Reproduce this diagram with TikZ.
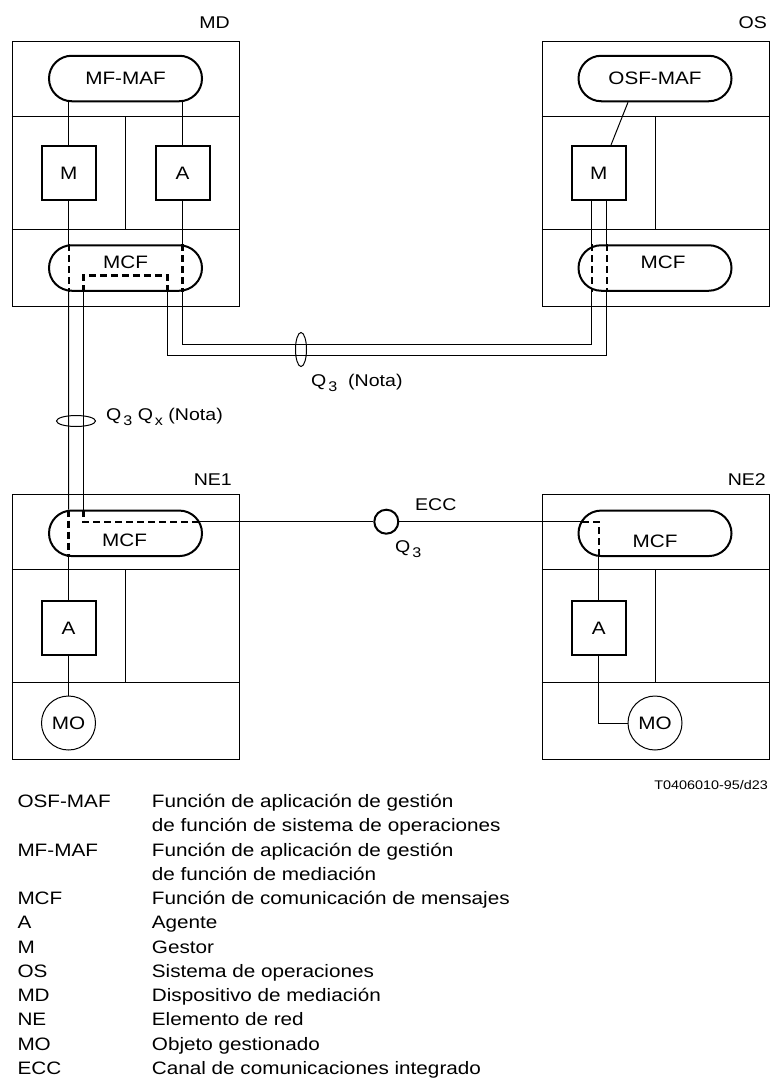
\documentclass[tikz,border=0pt]{standalone}
\usepackage{fontspec}
\setmainfont{Liberation Sans}[FakeStretch=1.15]
\usetikzlibrary{shapes.geometric, shapes.misc, positioning, calc}
\newcommand{\qsub}[1]{\hspace{2pt}\raisebox{-5pt}{\fontsize{14}{14}\selectfont #1}}

\tikzset{
  frame/.style={draw, line width=0.9pt, minimum width=227pt, minimum height=265pt, inner sep=0pt},
  pill/.style={draw, rounded rectangle, line width=2pt, minimum width=153pt, minimum height=45.5pt,
               inner sep=0pt, font=\fontsize{18}{20}\selectfont},
  fbox/.style={draw, line width=2pt, minimum size=54pt, inner sep=0pt, font=\fontsize{18}{20}\selectfont},
  mobj/.style={draw, circle, line width=1pt, minimum size=54pt, inner sep=0pt, font=\fontsize{18}{20}\selectfont},
  ring/.style={draw, ellipse, line width=1pt, inner sep=0pt},
  link/.style={line width=1pt},
  route/.style={line width=2.4pt, dash pattern=on 7pt off 4pt},
  txt/.style={inner sep=0pt, font=\fontsize{18}{20}\selectfont},
  tag/.style={inner sep=0pt, anchor=base east, font=\fontsize{17}{20}\selectfont},
  lbl/.style={inner sep=0pt, anchor=base west, font=\fontsize{17}{20}\selectfont}
}

\begin{document}
\begin{tikzpicture}[x=1pt, y=-1pt]
  \fill[white] (0,0) rectangle (774,1079);
  \useasboundingbox (0,0) rectangle (774,1079);

  \node[frame] (md) at (125.5,173.5) {};
  \node[frame] (os) at (655.5,173.5) {};
  \node[frame] (ne1) at (125.5,626.5) {};
  \node[frame] (ne2) at (655.5,626.5) {};
  \foreach \b in {md, os, ne1, ne2} {
    \draw[line width=0.9pt] ($(\b.north west)+(0,76)$) -- ($(\b.north east)+(0,76)$);
    \draw[line width=0.9pt] ($(\b.north west)+(0,189)$) -- ($(\b.north east)+(0,189)$);
    \draw[line width=0.9pt] ($(\b.north west)+(114,76)$) -- ($(\b.north west)+(114,189)$);
  }
  \node[tag] (mdtag) at (230,28) {MD};
  \node[tag] (ostag) at (767,28) {OS};
  \node[tag] (ne1tag) at (232,485) {NE1};
  \node[tag] (ne2tag) at (766,485) {NE2};

  \node[pill] (mfmaf) at (125.5,78.5) {MF-MAF};
  \node[pill] (osfmaf) at (655,78.5) {OSF-MAF};
  \node[fbox] (mdm) at (68.7,173) {M};
  \node[fbox] (mda) at (182.5,173) {A};
  \node[fbox] (osm) at (598.7,173) {M};
  \node[pill] (mdmcf) at (125.5,268) {};
  \node[txt] (mdmcft) at (125.5,262.5) {MCF};
  \node[pill] (osmcf) at (655,268) {};
  \node[txt] (osmcft) at (663,262.5) {MCF};
  \node[pill] (ne1mcf) at (125.5,533.3) {};
  \node[txt] (ne1mcft) at (124.5,540) {MCF};
  \node[pill] (ne2mcf) at (655,533.3) {};
  \node[txt] (ne2mcft) at (655,541) {MCF};
  \node[fbox] (ne1a) at (68.5,628) {A};
  \node[fbox] (ne2a) at (598.7,628) {A};
  \node[mobj] (ne1mo) at (68.5,723) {MO};
  \node[mobj] (ne2mo) at (655,723) {MO};
  \node[draw, circle, line width=2pt, minimum size=24pt, inner sep=0pt] (ecc) at (386.3,521.7) {};

  \draw[link] (mdm.north |- mfmaf.south) -- (mdm.north);
  \draw[link] (mda.north |- mfmaf.south) -- (mda.north);
  \draw[link] (mdm.south) -- (mdm.south |- mdmcf.north);
  \draw[link] (mda.south) -- (mda.south |- mdmcf.north);
  \draw[route] (mdm.south |- mdmcf.north) -- (mdm.south |- mdmcf.south);
  \draw[route] (mda.south |- mdmcf.north) -- (mda.south |- mdmcf.south);
  \coordinate (mdq1) at (83.3,275.3);
  \coordinate (mdq2) at (167.3,275.3);
  \draw[route] (mdq1 |- mdmcf.south) -- (mdq1) -- (mdq2) -- (mdq2 |- mdmcf.south);

  \draw[link] ($(osfmaf.south)+(-27,0)$) -- ($(osm.north)+(12.3,0)$);
  \coordinate (osq1) at (591.7,344);
  \coordinate (osq2) at (606.7,355);
  \draw[link] (osq1 |- osm.south) -- (osq1 |- osmcf.north);
  \draw[link] (osq2 |- osm.south) -- (osq2 |- osmcf.north);
  \draw[route] (osq1 |- osmcf.north) -- (osq1 |- osmcf.south);
  \draw[route] (osq2 |- osmcf.north) -- (osq2 |- osmcf.south);
  \draw[link] (mda.south |- mdmcf.south) |- (osq1) -- (osq1 |- osmcf.south);
  \draw[link] (mdq2 |- mdmcf.south) |- (osq2) -- (osq2 |- osmcf.south);
  \node[ring, minimum width=11pt, minimum height=34pt] (q3ring) at (301,349.5) {};
  \node[lbl] (q3lbl) at (311,386) {Q\qsub{3}\ \ (Nota)};

  \draw[link] (mdm.south |- mdmcf.south) -- (ne1a.north |- ne1mcf.north);
  \draw[link] (mdq1 |- mdmcf.south) -- (mdq1 |- ne1mcf.north);
  \node[ring, minimum width=39pt, minimum height=11pt] (qxring) at (76,421) {};
  \node[lbl] (qxlbl) at (106,420) {Q\qsub{3} Q\qsub{x} (Nota)};

  \draw[route] (ne1a.north |- ne1mcf.north) -- (ne1a.north |- ne1mcf.south);
  \draw[link] (ne1a.north |- ne1mcf.south) -- (ne1a.north);
  \draw[link] (ne1a.south) -- (ne1mo.north);
  \coordinate (ne1q) at (83.3,521.7);
  \coordinate (ne1e) at (199,521.7);
  \draw[route] (mdq1 |- ne1mcf.north) -- (ne1q) -- (ne1e);

  \coordinate (ne2w) at (582,521.7);
  \coordinate (ne2q) at (598.7,521.7);
  \draw[link] (ne1e) -- (ecc) -- (ne2w);
  \node[lbl] (ecclbl) at (415,510) {ECC};
  \node[lbl] (eccq) at (395,552) {Q\qsub{3}};
  \draw[route] (ne2w) -- (ne2q) -- (ne2q |- ne2mcf.south);
  \draw[link] (ne2q |- ne2mcf.south) -- (ne2a.north);
  \draw[link] (ne2a.south) |- (ne2mo.west);

  \node[inner sep=0pt, anchor=base east, font=\fontsize{12.5}{14}\selectfont] (tref) at (768,789) {T0406010-95/d23};

  \node[inner sep=0pt, anchor=base west, font=\fontsize{18}{24.25}\selectfont] (legend) at (17.3,807.5) {%
    \begin{tabular}[t]{@{}p{134.4pt}@{}l@{}}
      OSF-MAF & Función de aplicación de gestión\\
              & de función de sistema de operaciones\\
      MF-MAF  & Función de aplicación de gestión\\
              & de función de mediación\\
      MCF     & Función de comunicación de mensajes\\
      A       & Agente\\
      M       & Gestor\\
      OS      & Sistema de operaciones\\
      MD      & Dispositivo de mediación\\
      NE      & Elemento de red\\
      MO      & Objeto gestionado\\
      ECC     & Canal de comunicaciones integrado
    \end{tabular}};
\end{tikzpicture}
\end{document}
